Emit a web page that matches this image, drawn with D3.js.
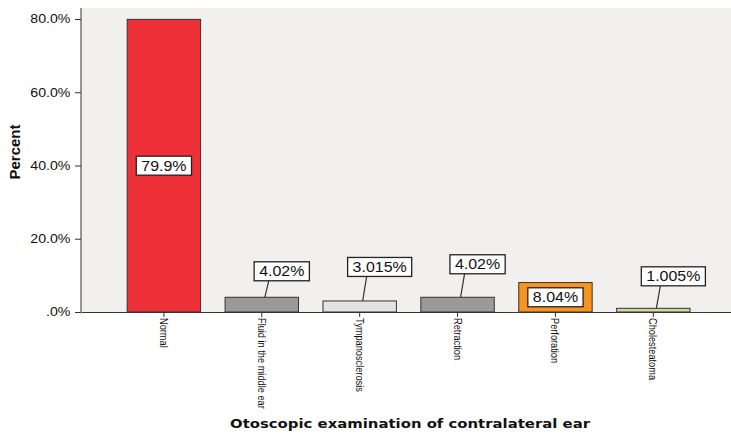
<!DOCTYPE html>
<html>
<head>
<meta charset="utf-8">
<script src="https://cdn.jsdelivr.net/npm/d3@7"></script>
<style>
  body { margin: 0; background: #fff; }
  text { font-family: "Liberation Sans", Arial, sans-serif; fill: #111; }
</style>
</head>
<body>
<div id="chart"></div>
<script>
// data
const categories = ["Normal", "Fluid in the middle ear", "Tympanosclerosis", "Retraction", "Perforation", "Cholesteatoma"];
const percents = [79.9, 4.02, 3.015, 4.02, 8.04, 1.005];
const valueLabels = ["79.9%", "4.02%", "3.015%", "4.02%", "8.04%", "1.005%"];
const yTicks = [0, 20, 40, 60, 80];

// look of each bar (kept apart from the values)
const barColors = ["#ee3039", "#9a9a9a", "#e3e3e3", "#9a9a9a", "#f7941d", "#d8d6a0"];

const svgWidth = 731;
const svgHeight = 435;
const margin = { top: 8, right: 0, bottom: 123, left: 81 };
const height = svgHeight - margin.top - margin.bottom;

const svg = d3.select("#chart")
  .append("svg")
  .attr("width", svgWidth)
  .attr("height", svgHeight);

const x = d3.scaleBand()
  .domain(categories)
  .range([margin.left, svgWidth - margin.right])
  .paddingInner(0.25)
  .paddingOuter(0.445)
  .align(0.53);

const y = d3.scaleLinear()
  .domain([0, 83])
  .range([margin.top + height, margin.top]);

// plot background
svg.append("rect")
  .attr("x", margin.left)
  .attr("y", margin.top)
  .attr("width", svgWidth - margin.left - margin.right)
  .attr("height", height)
  .attr("fill", "#f1f0ef");

// y axis
const yAxis = svg.append("g")
  .attr("transform", `translate(${margin.left},0)`)
  .call(d3.axisLeft(y)
    .tickValues(yTicks)
    .tickSize(6)
    .tickFormat(d => d === 0 ? ".0%" : d.toFixed(1) + "%"));
yAxis.select(".domain").attr("stroke", "#333").attr("d", `M0,${y(0)}V${margin.top}`);
yAxis.selectAll(".tick line").attr("stroke", "#333");
yAxis.selectAll(".tick text")
  .attr("x", -9)
  .attr("transform", "scale(1.18,1)")
  .style("font-size", "12px")
  .attr("fill", "#222");

svg.append("text")
  .attr("transform", `translate(20,${152}) rotate(-90)`)
  .attr("text-anchor", "middle")
  .style("font-size", "15px")
  .style("font-weight", "bold")
  .text("Percent");

// bars
const bars = categories.map((c, i) => ({ cat: c, val: percents[i], label: valueLabels[i], color: barColors[i] }));

svg.selectAll("rect.bar")
  .data(bars)
  .enter()
  .append("rect")
  .attr("class", "bar")
  .attr("x", d => x(d.cat))
  .attr("y", d => y(d.val))
  .attr("width", x.bandwidth())
  .attr("height", d => y(0) - y(d.val))
  .attr("fill", d => d.color)
  .attr("stroke", "#333")
  .attr("stroke-width", 1);

// x axis
const xAxis = svg.append("g")
  .attr("transform", `translate(0,${y(0)})`)
  .call(d3.axisBottom(x).tickSize(5).tickSizeOuter(0));
xAxis.select(".domain").attr("stroke", "#333");
xAxis.selectAll(".tick line").attr("stroke", "#333");
xAxis.selectAll(".tick text")
  .attr("y", 0)
  .attr("dy", 0)
  .attr("text-anchor", "start")
  .attr("transform", "translate(-4,6) rotate(90) scale(0.84,1)")
  .style("font-size", "11px")
  .attr("fill", "#222");

svg.append("text")
  .attr("x", 410)
  .attr("y", 428)
  .attr("text-anchor", "middle")
  .attr("textLength", 360)
  .attr("lengthAdjust", "spacingAndGlyphs")
  .style("font-family", "'DejaVu Sans', Verdana, sans-serif")
  .style("font-size", "13px")
  .style("font-weight", "bold")
  .text("Otoscopic examination of contralateral ear");

// value labels: inside tall bars, lifted with a leader line for short ones
const boxH = 19;
const labelLift = [0, 26, 34, 33, 0, 32];

const labels = svg.selectAll("g.vlabel")
  .data(bars)
  .enter()
  .append("g")
  .attr("class", "vlabel");

labels.each(function (d, i) {
  const g = d3.select(this);
  const cx = x(d.cat) + x.bandwidth() / 2;
  const inside = y(0) - y(d.val) > 25;
  const bx = inside ? cx : cx + 20;
  const by = inside ? (y(0) + y(d.val)) / 2 : y(d.val) - labelLift[i];

  const t = g.append("text")
    .attr("text-anchor", "middle")
    .attr("transform", `translate(${bx},${by + 5}) scale(1.14,1)`)
    .style("font-size", "14px")
    .attr("fill", "#111")
    .text(d.label);
  const w = t.node().getComputedTextLength() * 1.14 + 10;

  g.insert("rect", "text")
    .attr("x", bx - w / 2)
    .attr("y", by - boxH / 2)
    .attr("width", w)
    .attr("height", boxH)
    .attr("fill", "#fff")
    .attr("stroke", "#222")
    .attr("stroke-width", 1.3);

  if (!inside) {
    g.insert("line", "rect")
      .attr("x1", cx + 3)
      .attr("y1", y(d.val))
      .attr("x2", bx - 13)
      .attr("y2", by + boxH / 2)
      .attr("stroke", "#333")
      .attr("stroke-width", 1.2);
  }
});
</script>
</body>
</html>
